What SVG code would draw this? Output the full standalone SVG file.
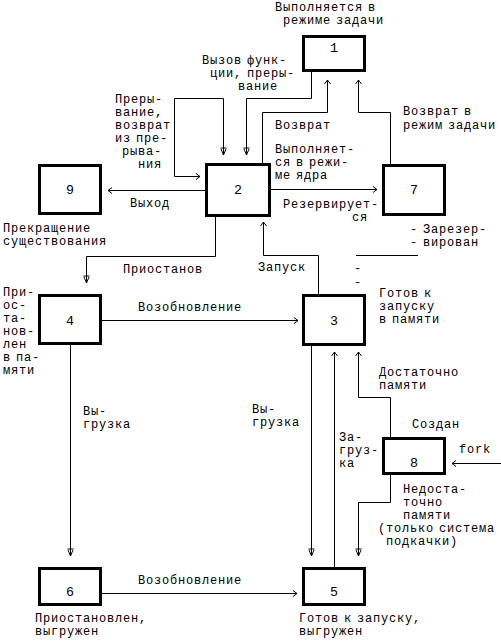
<svg xmlns="http://www.w3.org/2000/svg" width="501" height="641" viewBox="0 0 501 641">
<style>
text{font-family:"Liberation Mono","DejaVu Sans Mono",monospace;font-size:12px;letter-spacing:0.8px;fill:#000;word-spacing:-3px}
.box{fill:#fff;stroke:#000;stroke-width:3}
.num{text-anchor:middle;font-size:13.3px;letter-spacing:0}
.c{fill:none;stroke:#000;stroke-width:1}
.a{marker-end:url(#chev)}
.d{marker-end:url(#bar)}
</style>
<defs>
<marker id="chev" markerUnits="userSpaceOnUse" markerWidth="12" markerHeight="12" viewBox="-8 -6 10 12" refX="0" refY="0" orient="auto-start-reverse" overflow="visible"><path d="M-4,-3 L0,0 L-4,3" fill="none" stroke="#000" stroke-width="1"/></marker>
<marker id="bar" markerUnits="userSpaceOnUse" markerWidth="12" markerHeight="12" viewBox="-9 -6 11 12" refX="0" refY="0" orient="auto" overflow="visible"><path d="M-7,-3 L-7,3 M-6,-2.5 L0,0 L-6,2.5" fill="none" stroke="#000" stroke-width="1"/></marker>
</defs>
<rect width="501" height="641" fill="#fff"/>
<g id="connectors">
<path class="c d" d="M311.5,72 V98.5 H246.5 V155"/>
<path class="c d" d="M200,176.5 H174.5 V98.5 H223.5 V155" marker-start="url(#chev)"/>
<path class="c a" d="M262.5,163 V112.5 H327.5 V80"/>
<path class="c a" d="M390.5,164 V112.5 H358.5 V80"/>
<path class="c a" d="M205,190.5 H108"/>
<path class="c a" d="M271,189.5 H377"/>
<path class="c d" d="M215.5,217 V256.5 H86.5 V283"/>
<path class="c a" d="M318.5,294 V255.5 H263.5 V222"/>
<path class="c" d="M356,255.5 H418"/>
<path class="c a" d="M102,320.5 H298"/>
<path class="c d" d="M70.5,345 V556"/>
<path class="c d" d="M311.5,346 V556"/>
<path class="c a" d="M334.5,567 V352"/>
<path class="c a" d="M390.5,437 V397.5 H358.5 V352"/>
<path class="c d" d="M390.5,475 V502.5 H358.5 V556"/>
<path class="c a" d="M501,463.5 H452"/>
<path class="c a" d="M102,593.5 H297"/>
<g id="connector-labels">
<text x="202" y="64">Вызов функ-</text>
<text x="210" y="77">ции, преры-</text>
<text x="238" y="90">вание</text>
<text x="115" y="103">Преры-</text>
<text x="115" y="116">вание,</text>
<text x="115" y="129">возврат</text>
<text x="115" y="142">из пре-</text>
<text x="122" y="155">рыва-</text>
<text x="138" y="168">ния</text>
<text x="275" y="129">Возврат</text>
<text x="403" y="115">Возврат в</text>
<text x="403" y="129">режим задачи</text>
<text x="130" y="207">Выход</text>
<text x="283" y="208">Резервирует-</text>
<text x="352" y="221">ся</text>
<text x="123" y="273">Приостанов</text>
<text x="258" y="271">Запуск</text>
<text x="354" y="272">-</text>
<text x="354" y="286">-</text>
<text x="138" y="311">Возобновление</text>
<text x="83" y="415">Вы-</text>
<text x="83" y="428">грузка</text>
<text x="252" y="413">Вы-</text>
<text x="252" y="426">грузка</text>
<text x="379" y="376">Достаточно</text>
<text x="379" y="389">памяти</text>
<text x="339" y="441">За-</text>
<text x="339" y="454">груз-</text>
<text x="339" y="467">ка</text>
<text x="459" y="453">fork</text>
<text x="403" y="493">Недоста-</text>
<text x="403" y="506">точно</text>
<text x="403" y="519">памяти</text>
<text x="378" y="532">(только система</text>
<text x="386" y="545">подкачки)</text>
<text x="138" y="584">Возобновление</text>
</g>
</g>
<g id="node1">
<rect class="box" x="303.5" y="36.5" width="61" height="34"/>
<text class="num" x="334" y="52">1</text>
<text x="275" y="11">Выполняется в</text>
<text x="283" y="24">режиме задачи</text>
</g>
<g id="node2">
<rect class="box" x="206.5" y="164.5" width="63" height="51"/>
<text class="num" x="238" y="194">2</text>
<text x="275" y="153">Выполняет-</text>
<text x="275" y="166">ся в режи-</text>
<text x="275" y="179">ме ядра</text>
</g>
<g id="node9">
<rect class="box" x="39.5" y="165.5" width="61" height="48"/>
<text class="num" x="70" y="194">9</text>
<text x="3" y="232">Прекращение</text>
<text x="3" y="245">существования</text>
</g>
<g id="node7">
<rect class="box" x="383.5" y="165.5" width="61" height="49"/>
<text class="num" x="414" y="194">7</text>
<text x="410" y="233">- Зарезер-</text>
<text x="410" y="246">- вирован</text>
</g>
<g id="node4">
<rect class="box" x="39.5" y="295.5" width="61" height="48"/>
<text class="num" x="70" y="325">4</text>
<text x="3" y="296">При-</text>
<text x="3" y="309">ос-</text>
<text x="3" y="322">та-</text>
<text x="3" y="335">нов-</text>
<text x="3" y="348">лен</text>
<text x="3" y="361">в па-</text>
<text x="3" y="374">мяти</text>
</g>
<g id="node3">
<rect class="box" x="303.5" y="295.5" width="61" height="49"/>
<text class="num" x="334" y="325">3</text>
<text x="379" y="297">Готов к</text>
<text x="379" y="310">запуску</text>
<text x="379" y="323">в памяти</text>
</g>
<g id="node8">
<rect class="box" x="383.5" y="438.5" width="61" height="35"/>
<text class="num" x="414" y="467">8</text>
<text x="412" y="428">Создан</text>
</g>
<g id="node6">
<rect class="box" x="39.5" y="568.5" width="61" height="36"/>
<text class="num" x="70" y="596">6</text>
<text x="35" y="622">Приостановлен,</text>
<text x="35" y="635">выгружен</text>
</g>
<g id="node5">
<rect class="box" x="303.5" y="568.5" width="61" height="36"/>
<text class="num" x="334" y="596">5</text>
<text x="299" y="622">Готов к запуску,</text>
<text x="299" y="635">выгружен</text>
</g>
</svg>
